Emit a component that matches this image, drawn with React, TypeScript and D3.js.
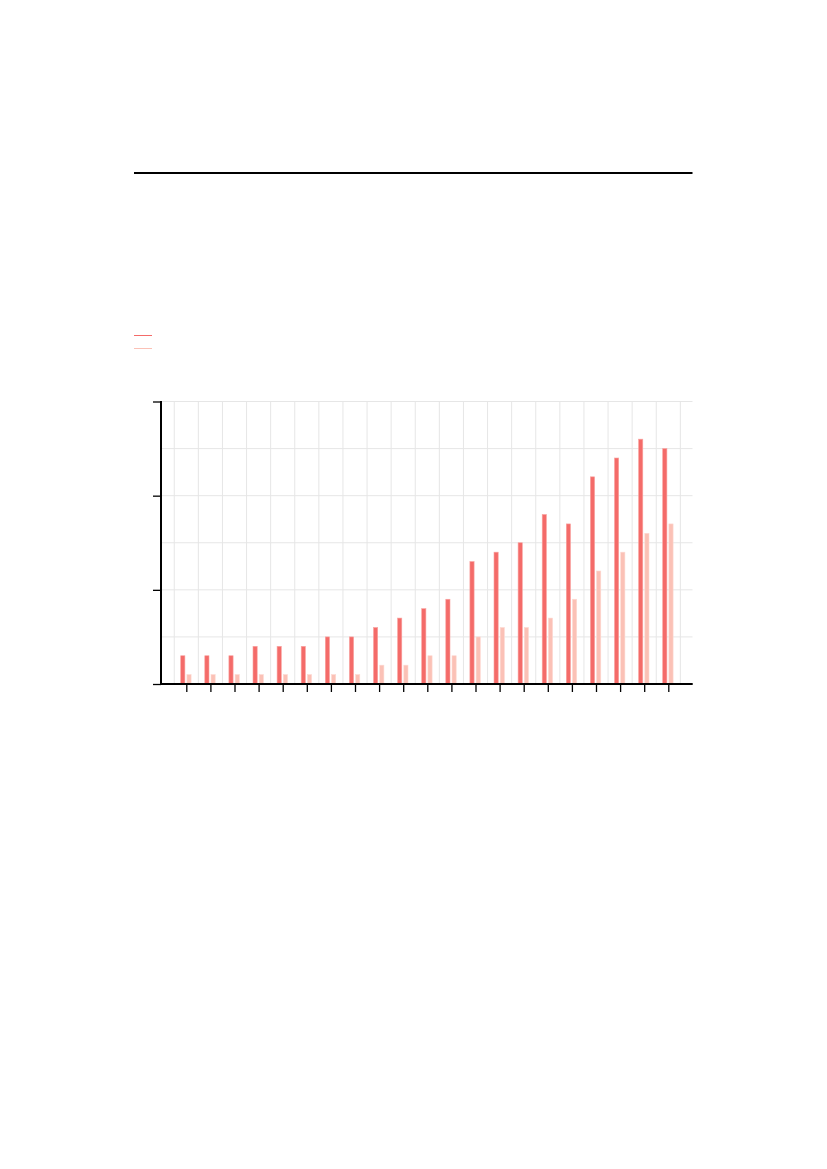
import React, { useEffect, useRef } from "react";
import * as d3 from "d3";

// Data
const categories: number[] = [1, 2, 3, 4, 5, 6, 7, 8, 9, 10, 11, 12, 13, 14, 15, 16, 17, 18, 19, 20, 21];
const seriesA: number[] = [3, 3, 3, 4, 4, 4, 5, 5, 6, 7, 8, 9, 13, 14, 15, 18, 17, 22, 24, 26, 25];
const seriesB: number[] = [1, 1, 1, 1, 1, 1, 1, 1, 2, 2, 3, 3, 5, 6, 6, 7, 9, 12, 14, 16, 17];
const yMajorTicks: number[] = [0, 10, 20, 30];
const yGridValues: number[] = [0, 5, 10, 15, 20, 25, 30];

const COLOR_A = "#f46b69";
const COLOR_B = "#fbc1b6";

export default function App() {
  const ref = useRef<SVGSVGElement | null>(null);

  useEffect(() => {
    const svg = d3.select(ref.current);
    svg.selectAll("*").remove();

    const x = d3.scaleLinear().domain([0, 22]).range([162.2, 692.4]);
    const y = d3.scaleLinear().domain([0, 30]).range([684, 401.5]);

    // Title rule
    svg.append("line")
      .attr("x1", 134).attr("x2", 692.5)
      .attr("y1", 173).attr("y2", 173)
      .attr("stroke", "#000").attr("stroke-width", 2);

    // Legend swatches
    const legend = [COLOR_A, COLOR_B];
    legend.forEach((c, i) => {
      svg.append("line")
        .attr("x1", 134).attr("x2", 152)
        .attr("y1", 335.5 + i * 13).attr("y2", 335.5 + i * 13)
        .attr("stroke", c).attr("stroke-width", 1);
    });

    const g = svg.append("g");

    // Horizontal gridlines
    g.selectAll("line.hg").data(yGridValues).enter().append("line")
      .attr("class", "hg")
      .attr("x1", 161).attr("x2", 692.5)
      .attr("y1", d => y(d)).attr("y2", d => y(d))
      .attr("stroke", "#e6e6e6").attr("stroke-width", 1);

    // Vertical gridlines at half positions
    const vGrid = d3.range(0.5, 22, 1);
    g.selectAll("line.vg").data(vGrid).enter().append("line")
      .attr("class", "vg")
      .attr("x1", d => x(d)).attr("x2", d => x(d))
      .attr("y1", y(30)).attr("y2", y(0))
      .attr("stroke", "#e6e6e6").attr("stroke-width", 1);

    // Bars
    const barW = 4.2;
    g.selectAll("rect.a").data(categories).enter().append("rect")
      .attr("class", "a")
      .attr("x", d => x(d) - 5.6)
      .attr("width", barW)
      .attr("y", (d, i) => y(seriesA[i]))
      .attr("height", (d, i) => y(0) - y(seriesA[i]))
      .attr("fill", COLOR_A)
      .attr("stroke", "#f9a3a0")
      .attr("stroke-width", 0.6);

    g.selectAll("rect.b").data(categories).enter().append("rect")
      .attr("class", "b")
      .attr("x", d => x(d) + 0.6)
      .attr("width", barW)
      .attr("y", (d, i) => y(seriesB[i]))
      .attr("height", (d, i) => y(0) - y(seriesB[i]))
      .attr("fill", COLOR_B)
      .attr("stroke", "#fdd9d2")
      .attr("stroke-width", 0.6);

    // X axis
    const xAxis = d3.axisBottom(x).tickValues(categories).tickSize(7).tickFormat(() => "");
    const xg = g.append("g").attr("transform", `translate(0,${y(0) + 1})`).call(xAxis);
    xg.select(".domain").remove();
    xg.selectAll(".tick line").attr("stroke", "#000").attr("stroke-width", 1.3);

    g.append("line")
      .attr("x1", 160).attr("x2", 692.7)
      .attr("y1", y(0)).attr("y2", y(0))
      .attr("stroke", "#000").attr("stroke-width", 2);

    // Y axis
    const yAxis = d3.axisLeft(y).tickValues(yMajorTicks).tickSize(8).tickFormat(() => "");
    const yg = g.append("g").attr("transform", `translate(161,0)`).call(yAxis);
    yg.select(".domain").remove();
    yg.selectAll(".tick line").attr("stroke", "#000").attr("stroke-width", 1.3);

    g.append("line")
      .attr("x1", 161).attr("x2", 161)
      .attr("y1", y(30) - 0.5).attr("y2", y(0) + 1)
      .attr("stroke", "#000").attr("stroke-width", 2);
  }, []);

  return (
    <div style={{ position: "absolute", left: 0, top: 0 }}>
      <svg ref={ref} width={827} height={1169} style={{ display: "block", background: "#fff" }} />
    </div>
  );
}
